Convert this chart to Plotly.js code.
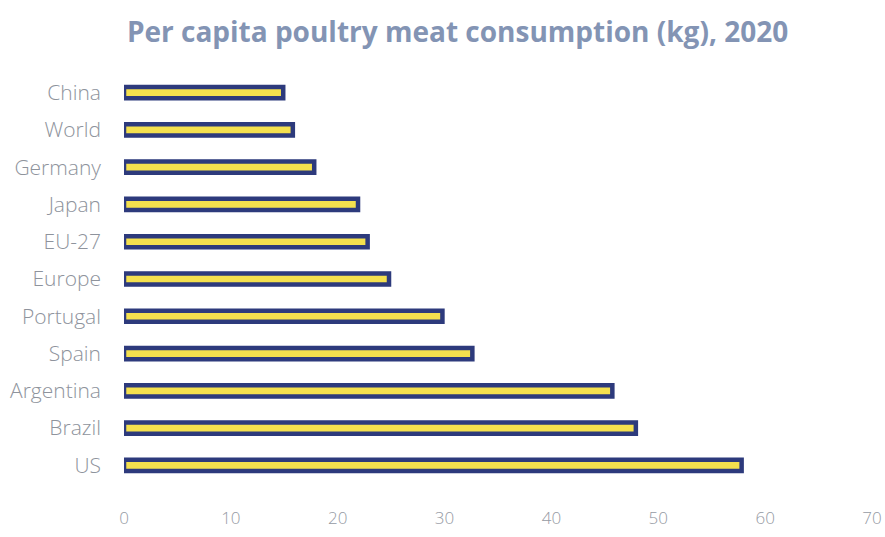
<!DOCTYPE html>
<html>
<head>
<meta charset="utf-8">
<script src="https://cdn.plot.ly/plotly-3.0.1.min.js"></script>
<style>html,body{margin:0;padding:0;background:#fff;}#chart{width:885px;height:537px;}</style>
</head>
<body>
<div id="chart"></div>
<script>
const categories = ["China","World","Germany","Japan","EU-27","Europe","Portugal","Spain","Argentina","Brazil","US"];
const consumptionKg = [14.9, 15.8, 17.8, 21.9, 22.8, 24.8, 29.8, 32.6, 45.7, 47.9, 57.8];
const xTicks = [0,10,20,30,40,50,60,70];
const chartTitle = "Per capita poultry meat consumption (kg), 2020";

const trace = {
  type: "bar",
  orientation: "h",
  y: categories,
  x: consumptionKg,
  marker: {color: "#f4e04e", line: {color: "#2d3a7c", width: 4.5}},
  hoverinfo: "x+y"
};

const layout = {
  width: 885, height: 537,
  paper_bgcolor: "#ffffff", plot_bgcolor: "#ffffff",
  margin: {l: 124, r: 13, t: 74, b: 53},
  title: {text: chartTitle, x: 0.517, xanchor: "center", y: 0.94, yanchor: "middle",
    font: {family: "Open Sans", size: 28, color: "#8394b4", weight: "bold"}},
  bargap: 0.7,
  showlegend: false,
  xaxis: {range: [0, 70], tickvals: xTicks, ticktext: xTicks.map(String),
    showgrid: false, zeroline: false, showline: false, ticks: "",
    ticklabelstandoff: 22,
    tickfont: {family: "Open Sans", size: 17, color: "#959aa3", weight: 300}},
  yaxis: {autorange: "reversed", showgrid: false, zeroline: false, showline: false, ticks: "",
    ticklabelstandoff: 22,
    tickfont: {family: "Open Sans", size: 21, color: "#8e939c", weight: 300}}
};

Plotly.newPlot("chart", [trace], layout, {displayModeBar: false, staticPlot: true});
</script>
</body>
</html>
